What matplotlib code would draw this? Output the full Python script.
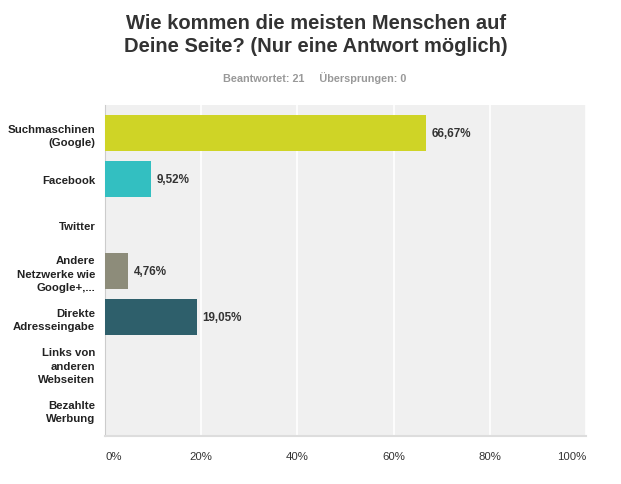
import matplotlib
matplotlib.use("Agg")
import matplotlib.pyplot as plt

categories = ["Suchmaschinen\n(Google)", "Facebook", "Twitter",
              "Andere\nNetzwerke wie\nGoogle+,...", "Direkte\nAdresseingabe",
              "Links von\nanderen\nWebseiten", "Bezahlte\nWerbung"]
values = [66.67, 9.52, 0.0, 4.76, 19.05, 0.0, 0.0]
colors = ["#cfd426", "#33bfc1", "#bdbdbd", "#8d8c7a", "#2e5f6b", "#bdbdbd", "#bdbdbd"]
xticks = [0, 20, 40, 60, 80, 100]
xticklabels = ["0%", "20%", "40%", "60%", "80%", "100%"]

plt.rcParams['font.family'] = ['Liberation Sans', 'DejaVu Sans']

fig = plt.figure(figsize=(6.21, 4.85), dpi=100)
ax = fig.add_axes([105/621, 1-437/485, (586-105)/621, (437-106)/485])
ax.set_facecolor("#f0f0f0")

ypos = list(range(len(categories)))
ax.barh(ypos, values, height=0.78, color=colors, zorder=3)
for y, v in zip(ypos, values):
    if v > 0:
        ax.text(v + 1.2, y, f"{v:.2f}%".replace(".", ","), va="center", ha="left",
                fontsize=8.4, fontweight="bold", color="#333333", zorder=4)

ax.set_xlim(0, 100)
ax.set_ylim(6.59, -0.61)
ax.set_yticks(ypos)
ax.set_yticklabels(categories, fontsize=8.2, fontweight="bold", color="#222222",
                   linespacing=1.4)
ax.set_xticks(xticks)
ax.set_xticklabels(xticklabels, fontsize=8.2, color="#333333")
tl = ax.get_xticklabels()
tl[0].set_ha("left")
tl[-1].set_ha("right")
ax.tick_params(axis="both", length=0)
ax.tick_params(axis="y", pad=7)
ax.tick_params(axis="x", pad=11)
ax.xaxis.grid(True, color="white", linewidth=1.2, zorder=1)
ax.set_axisbelow(True)
for s in ["top", "right"]:
    ax.spines[s].set_visible(False)
ax.spines["left"].set_color("#cccccc")
ax.spines["bottom"].set_color("#dddddd")
ax.spines["bottom"].set_linewidth(1.5)

fig.text(316/621, 1-35/485, "Wie kommen die meisten Menschen auf\nDeine Seite? (Nur eine Antwort möglich)",
         ha="center", va="center", fontsize=14.5, fontweight="bold", color="#333333",
         linespacing=1.3)
fig.text(315/621, 1-78/485, "Beantwortet: 21     Übersprungen: 0", ha="center", va="center",
         fontsize=7.8, fontweight="bold", color="#999999")

fig.savefig("out.png", dpi=100, facecolor="white")
